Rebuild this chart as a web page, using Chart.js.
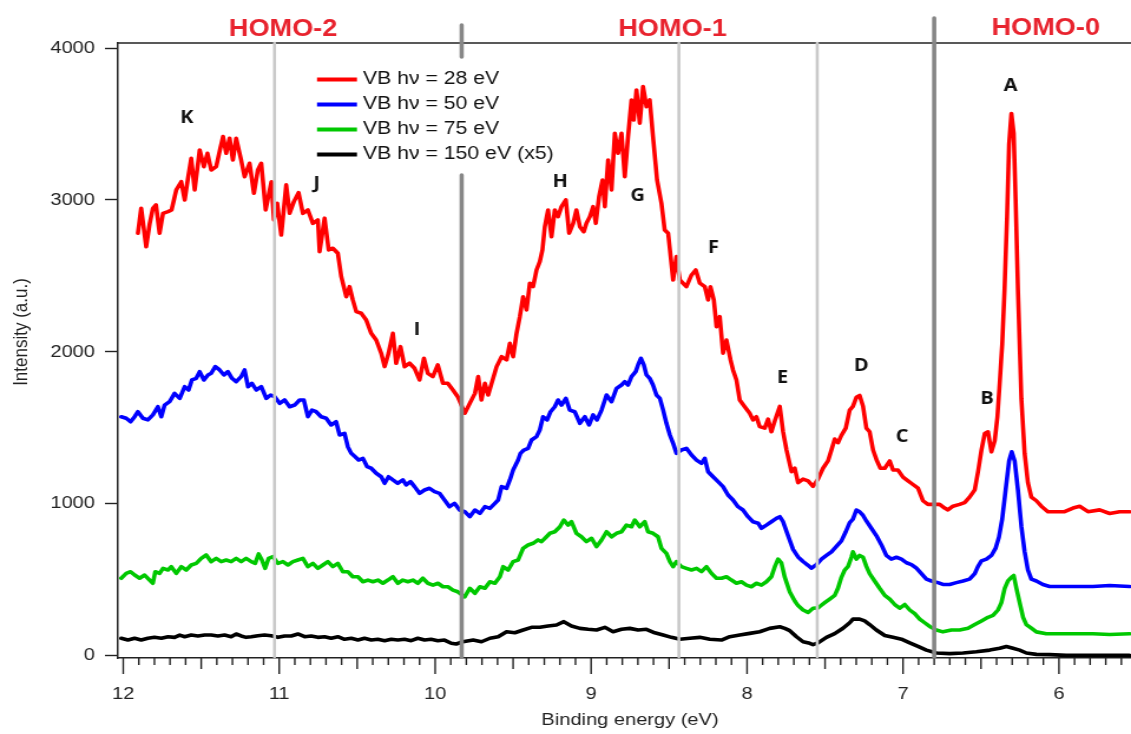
<!DOCTYPE html>
<html>
<head>
<meta charset="utf-8">
<title>Valence band photoemission</title>
<script src="https://cdn.jsdelivr.net/npm/chart.js@4.4.1/dist/chart.umd.min.js"></script>
<style>
  html, body { margin: 0; padding: 0; background: #ffffff; overflow: hidden; }
  /* the plot is drawn on a narrower canvas and widened to the page width */
  #wrap { width: 959px; height: 734px; transform-origin: 0 0; transform: scaleX(1.17935); }
  canvas { display: block; }
</style>
</head>
<body>
<div id="wrap"><canvas id="vb" width="959" height="734"></canvas></div>
<script>
// ---- series: [binding energy (eV), intensity (a.u.)] ----
const seriesLabels = ['VB h\u03bd = 28 eV', 'VB h\u03bd = 50 eV', 'VB h\u03bd = 75 eV', 'VB h\u03bd = 150 eV (x5)'];

const vb28 = [[11.906,2781],[11.885,2945],[11.853,2692],[11.83,2846],[11.81,2945],[11.79,2967],[11.767,2781],[11.745,2912],[11.713,2923],[11.69,2934],[11.66,3066],[11.628,3120],[11.606,3000],[11.585,3143],[11.564,3274],[11.542,3066],[11.51,3329],[11.483,3219],[11.46,3307],[11.436,3197],[11.404,3219],[11.38,3329],[11.36,3417],[11.34,3307],[11.318,3406],[11.297,3263],[11.276,3406],[11.244,3263],[11.222,3153],[11.19,3241],[11.162,3044],[11.137,3197],[11.115,3241],[11.087,2934],[11.05,3120],[11.034,2868],[11.013,2978],[10.987,2769],[10.955,3099],[10.933,2912],[10.906,2989],[10.876,3048],[10.848,2912],[10.816,2934],[10.784,2846],[10.752,2868],[10.741,2660],[10.709,2880],[10.683,2671],[10.656,2682],[10.624,2649],[10.602,2495],[10.57,2363],[10.549,2429],[10.528,2342],[10.506,2265],[10.474,2254],[10.442,2210],[10.41,2122],[10.378,2078],[10.346,1991],[10.324,1903],[10.299,1991],[10.271,2122],[10.25,1925],[10.222,2034],[10.196,1903],[10.164,1925],[10.132,1892],[10.1,1815],[10.072,1958],[10.047,1859],[10.015,1837],[9.983,1914],[9.95,1793],[9.919,1793],[9.886,1749],[9.855,1705],[9.81,1596],[9.778,1661],[9.745,1727],[9.724,1837],[9.703,1683],[9.681,1793],[9.66,1716],[9.638,1793],[9.606,1903],[9.574,1968],[9.542,1947],[9.521,2056],[9.5,1968],[9.478,2122],[9.457,2232],[9.436,2363],[9.414,2276],[9.393,2452],[9.372,2429],[9.35,2539],[9.329,2594],[9.312,2671],[9.297,2824],[9.276,2934],[9.254,2758],[9.233,2934],[9.212,2890],[9.19,2956],[9.162,3000],[9.141,2781],[9.115,2846],[9.094,2934],[9.072,2824],[9.047,2791],[9.03,2846],[9.008,2890],[8.987,2956],[8.97,2846],[8.949,3022],[8.927,3131],[8.912,2956],[8.891,3263],[8.869,3066],[8.848,3439],[8.827,3307],[8.805,3439],[8.784,3153],[8.763,3417],[8.741,3658],[8.727,3526],[8.709,3724],[8.688,3505],[8.667,3746],[8.645,3614],[8.624,3658],[8.603,3417],[8.577,3131],[8.549,2978],[8.528,2802],[8.506,2781],[8.474,2473],[8.453,2627],[8.431,2473],[8.389,2429],[8.356,2506],[8.329,2539],[8.303,2452],[8.271,2429],[8.25,2342],[8.235,2429],[8.213,2342],[8.196,2166],[8.175,2232],[8.154,1991],[8.132,2078],[8.106,1947],[8.09,1881],[8.068,1815],[8.047,1683],[8.015,1639],[7.983,1596],[7.962,1552],[7.94,1573],[7.919,1508],[7.887,1498],[7.865,1557],[7.844,1474],[7.822,1546],[7.79,1641],[7.769,1474],[7.747,1354],[7.715,1211],[7.694,1234],[7.673,1139],[7.641,1163],[7.609,1151],[7.577,1115],[7.545,1163],[7.513,1234],[7.481,1282],[7.459,1354],[7.438,1426],[7.417,1402],[7.395,1450],[7.367,1498],[7.342,1617],[7.321,1641],[7.299,1701],[7.278,1713],[7.256,1641],[7.235,1498],[7.214,1474],[7.192,1354],[7.167,1282],[7.145,1234],[7.117,1234],[7.085,1282],[7.064,1222],[7.032,1222],[7.0,1175],[6.968,1151],[6.936,1127],[6.904,1103],[6.872,1020],[6.84,996],[6.808,996],[6.765,996],[6.733,972],[6.712,960],[6.68,984],[6.637,996],[6.605,1008],[6.573,1044],[6.54,1092],[6.519,1211],[6.497,1354],[6.476,1462],[6.455,1474],[6.433,1342],[6.412,1414],[6.395,1569],[6.382,1761],[6.364,2049],[6.349,2408],[6.333,2887],[6.32,3366],[6.305,3569],[6.29,3437],[6.278,3006],[6.263,2408],[6.241,1690],[6.22,1331],[6.199,1139],[6.177,1044],[6.145,1020],[6.113,984],[6.071,948],[6.017,948],[5.964,948],[5.91,972],[5.867,984],[5.814,948],[5.739,960],[5.675,936],[5.611,948],[5.547,948]];

const vb50 = [[12.013,1573],[11.981,1563],[11.953,1540],[11.927,1573],[11.906,1606],[11.874,1563],[11.842,1552],[11.81,1585],[11.778,1639],[11.756,1573],[11.735,1650],[11.703,1672],[11.671,1727],[11.638,1694],[11.606,1771],[11.581,1749],[11.56,1815],[11.532,1826],[11.51,1870],[11.483,1815],[11.457,1848],[11.436,1859],[11.41,1903],[11.382,1881],[11.354,1848],[11.329,1870],[11.303,1826],[11.276,1804],[11.244,1837],[11.222,1881],[11.2,1771],[11.175,1793],[11.147,1749],[11.115,1771],[11.083,1694],[11.055,1716],[11.029,1705],[10.997,1661],[10.965,1683],[10.933,1639],[10.901,1650],[10.869,1683],[10.842,1683],[10.816,1573],[10.79,1617],[10.763,1606],[10.731,1573],[10.699,1563],[10.667,1519],[10.635,1540],[10.613,1453],[10.581,1464],[10.56,1376],[10.538,1332],[10.513,1310],[10.491,1288],[10.463,1299],[10.436,1244],[10.41,1234],[10.378,1201],[10.346,1178],[10.324,1135],[10.299,1178],[10.271,1157],[10.24,1135],[10.207,1157],[10.186,1124],[10.158,1146],[10.132,1113],[10.1,1069],[10.068,1091],[10.036,1102],[10.004,1080],[9.972,1069],[9.94,1025],[9.908,981],[9.876,1003],[9.843,959],[9.81,948],[9.778,915],[9.745,959],[9.713,937],[9.681,981],[9.649,970],[9.617,1003],[9.596,1025],[9.574,1113],[9.542,1102],[9.521,1157],[9.5,1222],[9.468,1288],[9.453,1332],[9.431,1354],[9.404,1365],[9.382,1420],[9.35,1442],[9.329,1486],[9.308,1573],[9.282,1552],[9.26,1606],[9.233,1639],[9.212,1683],[9.19,1650],[9.162,1694],[9.137,1617],[9.105,1606],[9.072,1530],[9.04,1573],[9.013,1519],[8.987,1585],[8.962,1552],[8.933,1617],[8.901,1716],[8.869,1672],[8.837,1760],[8.805,1782],[8.784,1804],[8.763,1782],[8.741,1837],[8.714,1870],[8.699,1914],[8.681,1958],[8.662,1914],[8.645,1848],[8.624,1826],[8.603,1782],[8.581,1716],[8.559,1694],[8.538,1617],[8.517,1530],[8.495,1453],[8.474,1398],[8.453,1332],[8.421,1354],[8.389,1365],[8.356,1321],[8.324,1288],[8.292,1266],[8.271,1299],[8.25,1211],[8.218,1178],[8.186,1146],[8.154,1113],[8.122,1058],[8.09,1025],[8.058,981],[8.026,959],[7.994,915],[7.962,882],[7.929,872],[7.908,839],[7.876,860],[7.844,882],[7.812,904],[7.79,915],[7.769,882],[7.737,790],[7.705,700],[7.673,650],[7.641,620],[7.609,595],[7.587,576],[7.555,600],[7.523,636],[7.491,660],[7.459,684],[7.427,720],[7.395,756],[7.367,816],[7.342,876],[7.321,899],[7.299,959],[7.278,947],[7.256,923],[7.235,887],[7.203,839],[7.171,791],[7.139,731],[7.107,660],[7.075,636],[7.042,648],[7.01,636],[6.978,612],[6.946,600],[6.914,576],[6.882,540],[6.85,504],[6.818,492],[6.776,481],[6.744,469],[6.701,469],[6.658,481],[6.615,492],[6.573,504],[6.54,540],[6.519,588],[6.497,624],[6.465,636],[6.433,660],[6.406,708],[6.385,780],[6.364,899],[6.342,1091],[6.32,1282],[6.303,1342],[6.284,1282],[6.263,1091],[6.241,851],[6.22,684],[6.199,564],[6.177,504],[6.145,492],[6.103,469],[6.06,456],[5.996,456],[5.889,456],[5.782,456],[5.675,462],[5.547,456]];

const vb75 = [[12.013,510],[11.981,542],[11.953,553],[11.927,531],[11.895,510],[11.863,531],[11.831,498],[11.81,477],[11.795,553],[11.767,542],[11.745,575],[11.713,564],[11.692,586],[11.66,542],[11.628,586],[11.596,564],[11.564,597],[11.532,608],[11.5,641],[11.468,663],[11.436,619],[11.404,641],[11.372,619],[11.34,630],[11.308,619],[11.276,641],[11.244,619],[11.212,641],[11.179,619],[11.154,608],[11.132,670],[11.111,630],[11.09,575],[11.068,641],[11.04,652],[11.008,608],[10.976,619],[10.944,597],[10.912,619],[10.88,630],[10.848,641],[10.816,586],[10.784,608],[10.752,575],[10.72,597],[10.688,619],[10.656,586],[10.624,608],[10.592,553],[10.56,553],[10.528,520],[10.495,520],[10.463,487],[10.431,498],[10.399,487],[10.367,498],[10.335,477],[10.303,498],[10.271,520],[10.239,477],[10.207,498],[10.175,487],[10.143,498],[10.111,477],[10.079,510],[10.047,477],[10.014,465],[9.982,477],[9.95,454],[9.918,454],[9.886,432],[9.855,421],[9.81,388],[9.778,444],[9.745,411],[9.713,454],[9.681,444],[9.649,487],[9.617,477],[9.585,520],[9.564,586],[9.532,564],[9.5,619],[9.468,630],[9.436,707],[9.404,729],[9.372,740],[9.34,762],[9.318,751],[9.286,783],[9.264,806],[9.233,816],[9.2,849],[9.175,893],[9.147,860],[9.126,882],[9.094,806],[9.062,783],[9.03,751],[8.997,773],[8.965,718],[8.933,762],[8.901,816],[8.869,783],[8.837,806],[8.805,816],[8.773,860],[8.741,849],[8.72,893],[8.688,849],[8.656,882],[8.635,816],[8.603,806],[8.571,783],[8.549,707],[8.517,674],[8.495,619],[8.474,586],[8.453,619],[8.421,586],[8.389,575],[8.356,564],[8.324,575],[8.292,553],[8.26,586],[8.228,542],[8.196,510],[8.164,510],[8.132,520],[8.1,498],[8.068,477],[8.036,487],[8.004,465],[7.972,454],[7.94,477],[7.908,465],[7.876,487],[7.844,520],[7.822,586],[7.801,636],[7.78,612],[7.758,516],[7.726,420],[7.694,360],[7.673,330],[7.641,301],[7.609,285],[7.577,312],[7.545,315],[7.534,324],[7.502,349],[7.47,373],[7.438,397],[7.417,444],[7.395,516],[7.374,564],[7.352,588],[7.331,648],[7.321,684],[7.299,636],[7.278,660],[7.256,648],[7.235,588],[7.214,540],[7.182,492],[7.15,444],[7.117,397],[7.085,373],[7.053,337],[7.021,313],[6.989,337],[6.957,301],[6.925,277],[6.893,241],[6.861,217],[6.829,193],[6.786,169],[6.744,157],[6.69,169],[6.637,169],[6.583,181],[6.54,205],[6.497,229],[6.455,253],[6.423,265],[6.391,301],[6.369,349],[6.348,444],[6.327,492],[6.305,516],[6.29,528],[6.273,444],[6.252,349],[6.23,253],[6.209,205],[6.177,181],[6.145,157],[6.081,145],[5.996,145],[5.889,145],[5.782,145],[5.675,140],[5.547,145]];

const vb150x5 = [[12.013,115],[11.97,103],[11.927,115],[11.885,103],[11.842,115],[11.8,121],[11.756,115],[11.713,125],[11.671,121],[11.638,136],[11.606,125],[11.564,136],[11.521,130],[11.478,136],[11.436,136],[11.393,130],[11.35,136],[11.308,125],[11.276,143],[11.244,130],[11.212,121],[11.179,125],[11.137,132],[11.094,136],[11.051,132],[11.008,121],[10.965,130],[10.923,130],[10.88,143],[10.837,125],[10.795,130],[10.752,121],[10.709,125],[10.667,115],[10.624,125],[10.581,108],[10.538,115],[10.495,103],[10.453,115],[10.41,103],[10.367,108],[10.324,99],[10.282,108],[10.239,103],[10.196,108],[10.154,99],[10.111,115],[10.068,103],[10.026,108],[9.983,99],[9.94,103],[9.897,82],[9.865,77],[9.822,92],[9.756,103],[9.703,92],[9.649,115],[9.596,125],[9.542,158],[9.489,151],[9.436,169],[9.382,187],[9.329,187],[9.276,196],[9.222,202],[9.175,224],[9.126,196],[9.072,180],[9.019,174],[8.965,169],[8.912,187],[8.859,158],[8.805,174],[8.752,180],[8.699,169],[8.645,174],[8.592,151],[8.538,136],[8.485,121],[8.431,108],[8.367,115],[8.303,121],[8.239,108],[8.164,103],[8.111,125],[8.047,136],[7.983,147],[7.919,158],[7.855,180],[7.79,191],[7.758,180],[7.726,165],[7.683,125],[7.641,92],[7.598,82],[7.577,73],[7.545,85],[7.491,121],[7.438,145],[7.385,181],[7.342,217],[7.321,241],[7.278,241],[7.246,229],[7.214,205],[7.171,169],[7.117,133],[7.064,121],[7.01,109],[6.957,85],[6.904,61],[6.85,37],[6.786,18],[6.701,14],[6.615,18],[6.53,26],[6.444,37],[6.38,49],[6.337,61],[6.295,49],[6.252,37],[6.209,18],[6.145,9],[6.06,7],[5.953,2],[5.825,2],[5.675,2],[5.547,2]];

// ---- axes ----
const energyTicks = [12, 11, 10, 9, 8, 7, 6];
const intensityTicks = [0, 1000, 2000, 3000, 4000];

// ---- annotations ----
const peakNames = ['K', 'J', 'I', 'H', 'G', 'F', 'E', 'D', 'C', 'B', 'A'];
const peakEnergies = [11.593, 10.76, 10.117, 9.199, 8.702, 8.215, 7.772, 7.267, 7.005, 6.46, 6.311];
const peakHeights = [3538, 3104, 2142, 3118, 3022, 2682, 1829, 1905, 1438, 1689, 3746];

const orbitalNames = ['HOMO-2', 'HOMO-1', 'HOMO-0'];
const orbitalCentres = [10.975, 8.478, 6.085];

const boundaryEnergies = [11.03, 9.83, 8.437, 7.55, 6.80];

// ---- drawing ----
const seriesData = [vb28, vb50, vb75, vb150x5];
const seriesColors = ['#ff0000', '#0000ff', '#00c800', '#000000'];
const SANS = '"Liberation Sans", Arial, sans-serif';

// boundary styles: light lines span the frame, dark ones rise above it
const boundaryStyle = [
  { color: '#c9c9c9', width: 2.6, spans: [[4033, -8]] },
  { color: '#878787', width: 3.6, spans: [[4151, 3941], [3164, -8]] },
  { color: '#c9c9c9', width: 2.6, spans: [[4033, -8]] },
  { color: '#c9c9c9', width: 2.6, spans: [[4033, -8]] },
  { color: '#878787', width: 3.6, spans: [[4197, -8]] }
];

const decorations = {
  id: 'decorations',
  afterDatasetsDraw(chart) {
    const { ctx, chartArea: a, scales: { x, y } } = chart;
    ctx.save();

    // top frame line
    ctx.strokeStyle = '#222';
    ctx.lineWidth = 1.5;
    ctx.beginPath();
    ctx.moveTo(a.left, a.top);
    ctx.lineTo(a.right, a.top);
    ctx.stroke();

    // energy tick marks: 0.1 eV minor, 0.5 eV medium, 1 eV major
    ctx.lineWidth = 1.4;
    for (let k = Math.ceil(x.min * 10); k <= Math.floor(x.max * 10); k++) {
      const px = x.getPixelForValue(k / 10);
      const len = k % 10 === 0 ? 16 : (k % 5 === 0 ? 11 : 7);
      ctx.beginPath();
      ctx.moveTo(px, a.bottom);
      ctx.lineTo(px, a.bottom + len);
      ctx.stroke();
    }

    // orbital region boundaries
    ctx.lineCap = 'round';
    boundaryEnergies.forEach((e, i) => {
      const st = boundaryStyle[i];
      const px = x.getPixelForValue(e);
      ctx.strokeStyle = st.color;
      ctx.lineWidth = st.width;
      st.spans.forEach(([from, to]) => {
        ctx.beginPath();
        ctx.moveTo(px, y.getPixelForValue(from));
        ctx.lineTo(px, y.getPixelForValue(to));
        ctx.stroke();
      });
    });
    ctx.lineCap = 'butt';

    // legend
    ctx.font = '18px ' + SANS;
    ctx.textBaseline = 'middle';
    ctx.textAlign = 'left';
    seriesLabels.forEach((lab, i) => {
      const ly = a.top + 36.5 + i * 25;
      ctx.strokeStyle = seriesColors[i];
      ctx.lineWidth = 4;
      ctx.beginPath();
      ctx.moveTo(268.8, ly);
      ctx.lineTo(302.7, ly);
      ctx.stroke();
      ctx.fillStyle = '#111';
      ctx.fillText(lab, 307.8, ly);
    });

    // peak letters
    ctx.font = 'bold 17px "Open Sans", ' + SANS;
    ctx.textAlign = 'center';
    ctx.fillStyle = '#111';
    peakNames.forEach((n, i) => {
      ctx.fillText(n, x.getPixelForValue(peakEnergies[i]), y.getPixelForValue(peakHeights[i]));
    });

    // orbital headings above the frame
    ctx.font = 'bold 23px ' + SANS;
    ctx.fillStyle = '#e8232e';
    orbitalNames.forEach((n, i) => {
      ctx.fillText(n, x.getPixelForValue(orbitalCentres[i]), i === 2 ? 28.5 : 30);
    });

    // axis titles
    ctx.fillStyle = '#222';
    ctx.font = '17px ' + SANS;
    ctx.fillText('Binding energy (eV)', 534.2, 720.5);
    ctx.save();
    ctx.translate(18.7, 332);
    ctx.rotate(-Math.PI / 2);
    ctx.fillText('Intensity (a.u.)', 0, 0);
    ctx.restore();

    ctx.restore();
  }
};

new Chart(document.getElementById('vb'), {
  type: 'line',
  data: {
    datasets: seriesData.map((pts, i) => ({
      label: seriesLabels[i],
      data: pts.map(([e, v]) => ({ x: e, y: v })),
      borderColor: seriesColors[i],
      borderWidth: 3.6,
      borderJoinStyle: 'round',
      borderCapStyle: 'round',
      pointRadius: 0,
      tension: 0,
      fill: false
    }))
  },
  options: {
    responsive: false,
    animation: false,
    devicePixelRatio: 1,
    layout: { padding: { top: 43, right: 0, bottom: 0, left: 0 } },
    plugins: { legend: { display: false }, tooltip: { enabled: false } },
    scales: {
      x: {
        type: 'linear',
        reverse: true,
        min: 5.538,
        max: 12.034,
        afterFit(s) { s.height = 76; },
        afterBuildTicks(s) { s.ticks = energyTicks.map(v => ({ value: v })); },
        grid: { display: true, drawOnChartArea: false, drawTicks: false },
        border: { display: true, color: '#222', width: 1.5 },
        ticks: {
          color: '#222',
          font: { family: SANS, size: 17 },
          padding: 26,
          maxRotation: 0,
          autoSkip: false,
          callback: v => String(v)
        }
      },
      y: {
        type: 'linear',
        min: -15,
        max: 4033,
        afterFit(s) { s.width = 100; },
        afterBuildTicks(s) { s.ticks = intensityTicks.map(v => ({ value: v })); },
        grid: { display: true, drawOnChartArea: false, drawTicks: true, tickLength: 11, tickColor: '#222', tickWidth: 1.4 },
        border: { display: true, color: '#222', width: 1.5 },
        ticks: {
          color: '#222',
          font: { family: SANS, size: 17 },
          padding: 8.5,
          callback: v => String(v)
        }
      }
    }
  },
  plugins: [decorations]
});
</script>
</body>
</html>
